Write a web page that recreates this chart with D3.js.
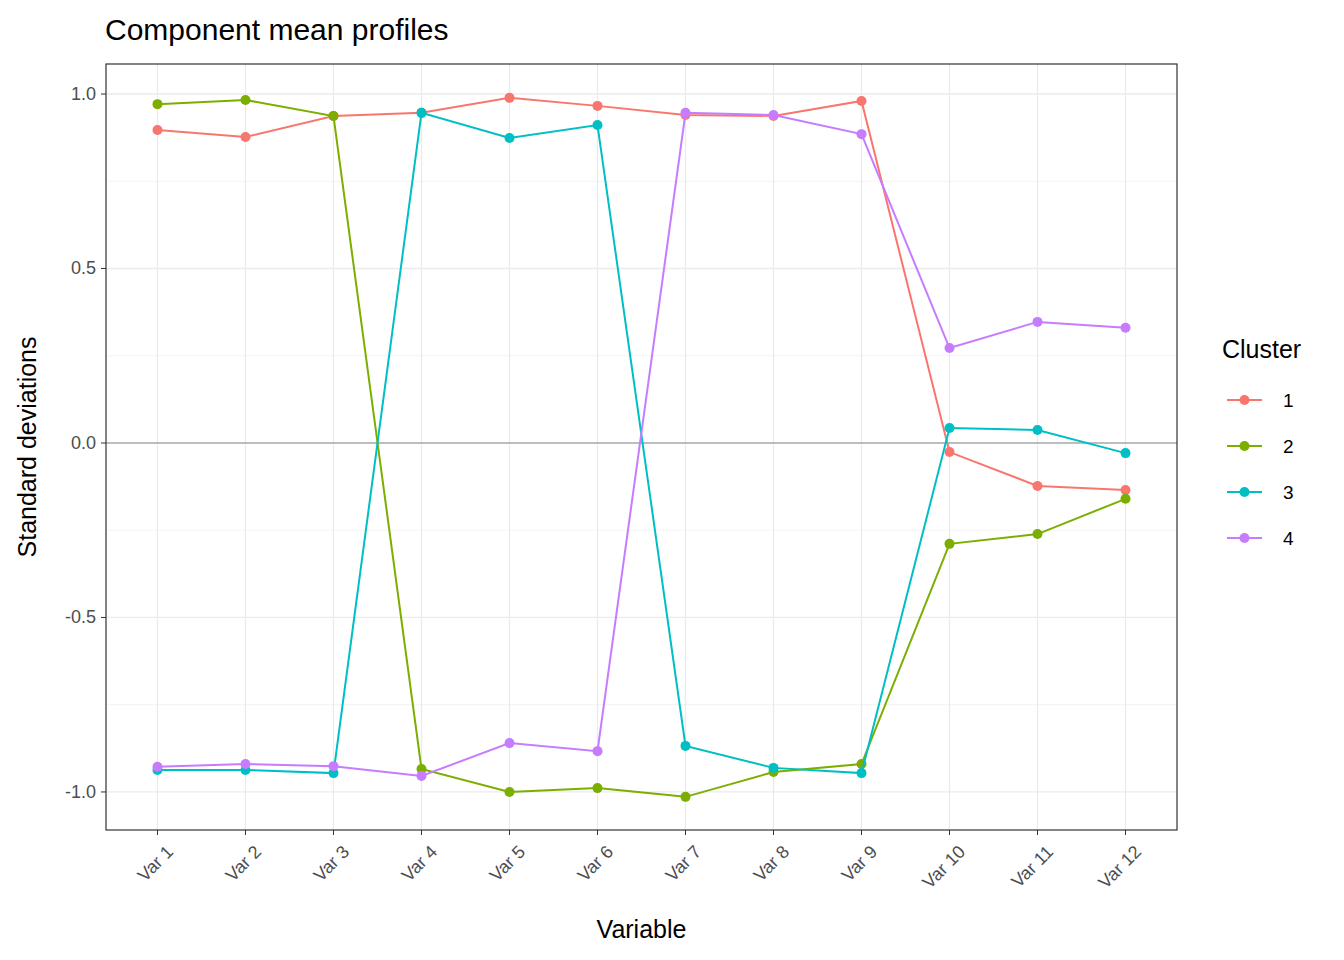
<!DOCTYPE html>
<html><head><meta charset="utf-8">
<script src="https://cdn.jsdelivr.net/npm/d3@7"></script>
<style>body{margin:0;background:#fff;font-family:"Liberation Sans",Arial,sans-serif;}</style>
</head><body>
<svg id="chart" width="1344" height="960"></svg>
<script>
var variables = ["Var 1","Var 2","Var 3","Var 4","Var 5","Var 6","Var 7","Var 8","Var 9","Var 10","Var 11","Var 12"];
var clusters = ["1","2","3","4"];
var colors = ["#F8766D","#7CAE00","#00BFC4","#C77CFF"];
var c1 = [0.897,0.877,0.937,0.946,0.989,0.966,0.940,0.937,0.980,-0.026,-0.123,-0.135];
var c2 = [0.971,0.983,0.937,-0.934,-1.0,-0.989,-1.014,-0.943,-0.920,-0.289,-0.261,-0.160];
var c3 = [-0.937,-0.937,-0.946,0.946,0.874,0.911,-0.868,-0.931,-0.946,0.043,0.037,-0.029];
var c4 = [-0.928,-0.920,-0.926,-0.954,-0.860,-0.883,0.946,0.940,0.885,0.272,0.347,0.330];
var series = [c1,c2,c3,c4];
var yTicks = [-1.0,-0.5,0.0,0.5,1.0];
var yMinor = [-0.75,-0.25,0.25,0.75];

var svg = d3.select("#chart");
var L = 106, R = 1177, T = 64, B = 830;
var x = d3.scalePoint().domain(variables).range([L, R]).padding(0.585);
var y = d3.scaleLinear().domain([-1.109, 1.086]).range([B, T]);

var g = svg.append("g");
yMinor.forEach(function(v){
  g.append("line").attr("x1",L).attr("x2",R).attr("y1",y(v)).attr("y2",y(v)).attr("stroke","#ebebeb").attr("stroke-width",0.6);
});
yTicks.forEach(function(v){
  g.append("line").attr("x1",L).attr("x2",R).attr("y1",y(v)).attr("y2",y(v)).attr("stroke","#ebebeb").attr("stroke-width",1.3);
});
variables.forEach(function(v){
  g.append("line").attr("x1",x(v)).attr("x2",x(v)).attr("y1",T).attr("y2",B).attr("stroke","#ebebeb").attr("stroke-width",1.3);
});
g.append("line").attr("x1",L).attr("x2",R).attr("y1",y(0)).attr("y2",y(0)).attr("stroke","#8a8a8a").attr("stroke-width",1.2);

var line = d3.line().x(function(d,i){return x(variables[i]);}).y(function(d){return y(d);});
series.forEach(function(s,k){
  svg.append("path").datum(s).attr("d",line).attr("fill","none").attr("stroke",colors[k]).attr("stroke-width",2);
  svg.selectAll(null).data(s).enter().append("circle")
    .attr("cx",function(d,i){return x(variables[i]);}).attr("cy",function(d){return y(d);})
    .attr("r",5).attr("fill",colors[k]);
});

svg.append("rect").attr("x",L).attr("y",T).attr("width",R-L).attr("height",B-T).attr("fill","none").attr("stroke","#333").attr("stroke-width",1.2);

yTicks.forEach(function(v){
  svg.append("line").attr("x1",L-5).attr("x2",L).attr("y1",y(v)).attr("y2",y(v)).attr("stroke","#333");
  svg.append("text").attr("x",L-10).attr("y",y(v)+6).attr("text-anchor","end").attr("font-size",18).attr("fill","#4d4d4d").text(v.toFixed(1));
});
variables.forEach(function(v){
  svg.append("line").attr("x1",x(v)).attr("x2",x(v)).attr("y1",B).attr("y2",B+5).attr("stroke","#333");
  svg.append("text").attr("transform","translate("+(x(v)+8)+","+(B+14)+") rotate(-45)")
    .attr("text-anchor","end").attr("dy","0.7em").attr("font-size",18).attr("fill","#4d4d4d").text(v);
});

svg.append("text").attr("x",105).attr("y",40).attr("font-size",30).attr("fill","#000").text("Component mean profiles");
svg.append("text").attr("x",(L+R)/2).attr("y",938).attr("text-anchor","middle").attr("font-size",25).text("Variable");
svg.append("text").attr("transform","translate(36,"+((T+B)/2)+") rotate(-90)").attr("text-anchor","middle").attr("font-size",25).text("Standard deviations");

svg.append("text").attr("x",1222).attr("y",358).attr("font-size",25).text("Cluster");
clusters.forEach(function(c,k){
  var yy = 400 + k*46;
  svg.append("line").attr("x1",1227).attr("x2",1262).attr("y1",yy).attr("y2",yy).attr("stroke",colors[k]).attr("stroke-width",2);
  svg.append("circle").attr("cx",1244.5).attr("cy",yy).attr("r",5).attr("fill",colors[k]);
  svg.append("text").attr("x",1283).attr("y",yy+7).attr("font-size",19).text(c);
});
</script>
</body></html>
